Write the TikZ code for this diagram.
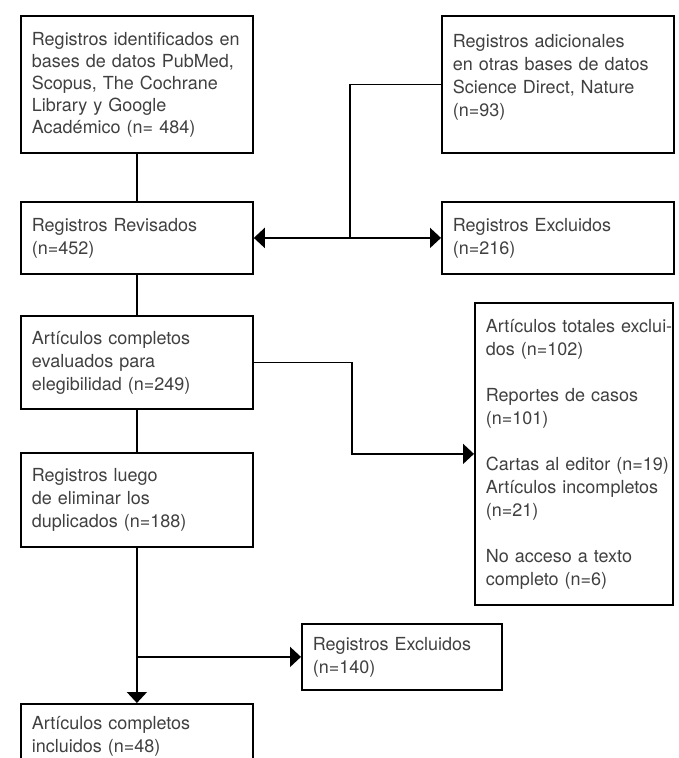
\documentclass[tikz,border=0pt]{standalone}
\usepackage{fontspec}
\setmainfont{TeX Gyre Heros}
\usetikzlibrary{arrows.meta}

\begin{document}
\begin{tikzpicture}[x=1pt,y=-1pt,
	caja/.style={draw, line width=1.8pt, rectangle, align=left, inner xsep=11pt, inner ysep=0pt,
		anchor=north west, text width=210pt, text=black!75, font=\fontsize{18}{23}\selectfont},
	linea/.style={line width=1.8pt},
	flecha/.style={line width=1.8pt, -{Triangle[length=11pt,width=20pt]}}]
\useasboundingbox (0,0) rectangle (678,758);
\clip (0,0) rectangle (678,758);

\node[caja, minimum height=137pt, font=\fontsize{18}{22}\selectfont]	(b_id)		at (20,15)		{Registros identificados en\\ bases de datos PubMed,\\ Scopus, The Cochrane\\ Library y Google\\ Académico (n= 484)};
\node[caja, minimum height=137pt]										(b_add)		at (441,15)		{Registros adicionales\\ en otras bases de datos\\ Science Direct, Nature\\ (n=93)\par\vspace{15pt}};
\node[caja, minimum height=72pt]										(b_rev)		at (20,201)		{Registros Revisados\\ (n=452)};
\node[caja, minimum height=72pt]										(b_exc1)	at (441,201)	{Registros Excluidos\\ (n=216)};
\node[caja, minimum height=93pt]										(b_eval)	at (20,315)		{Artículos completos\\ evaluados para\\ elegibilidad (n=249)};
\node[caja, minimum height=302pt, text width=176pt]						(b_tot)		at (474,302)	{\mbox{Artículos totales exclui-}\\ dos (n=102)\\[23pt] Reportes de casos\\ (n=101)\\[23pt] \mbox{Cartas al editor (n=19)}\\ \mbox{Artículos incompletos}\\ (n=21)\\[23pt] No acceso a texto\\ completo (n=6)};
\node[caja, minimum height=94pt]										(b_dup)		at (20,452)		{Registros luego\\ de eliminar los\\ duplicados (n=188)};
\node[caja, minimum height=66pt, text width=178pt]						(b_exc2)	at (301,623)	{Registros Excluidos\\ (n=140)};
\node[caja, minimum height=64pt]										(b_inc)		at (20,703)		{Artículos completos\\ incluidos (n=48)};

% puntos de union
\coordinate (j_1) at (350,0 |- b_rev.east);
\coordinate (j_2) at (352,0 |- b_eval.east);
\coordinate (j_3) at (b_dup.south |- b_exc2.west);

\draw[linea]	(b_id)		-- (b_rev);
\draw[linea]	(b_rev)		-- (b_eval);
\draw[linea]	(b_eval)	-- (b_dup);
\draw[flecha]	(b_dup)		-- (b_inc);
\draw[flecha]	(j_3)		-- (b_exc2);

\draw[linea]	(b_add.west)	-| (j_1);
\draw[flecha]	(j_1)		-- (b_rev.east);
\draw[flecha]	(j_1)		-- (b_exc1.west);

\draw[flecha]	(b_eval.east)	-- (j_2) |- (b_tot.west);
\end{tikzpicture}
\end{document}
